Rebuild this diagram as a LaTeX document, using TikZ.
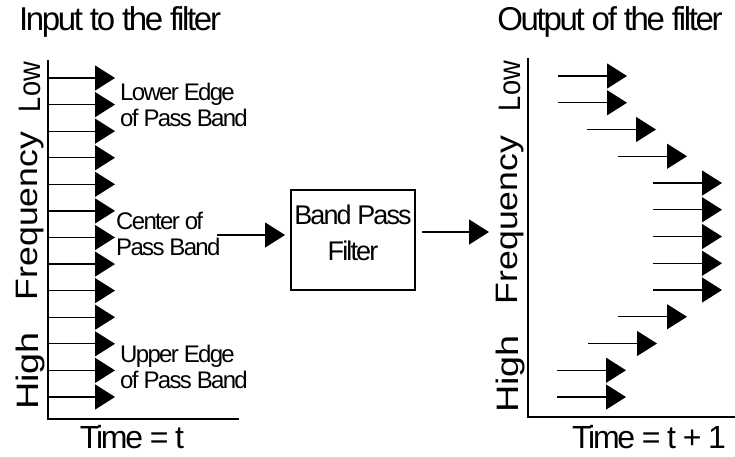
\documentclass[tikz,border=0pt]{standalone}
\usepackage{fontspec}
\setmainfont{Liberation Sans}[LetterSpace=-7]
\newfontfamily\sidefont{Liberation Sans}
\usetikzlibrary{arrows.meta}
\begin{document}
\begin{tikzpicture}[x=1pt,y=-1pt,
  arr/.style={line width=1.3pt,-{Triangle[length=20pt,width=25pt]}},
  axis/.style={line width=1.6pt},
  lbl/.style={font=\fontsize{24}{26.5}\selectfont, align=left, anchor=west, inner sep=0pt},
  ttl/.style={font=\fontsize{33}{36}\selectfont, inner sep=0pt},
  side/.style={font=\sidefont\fontsize{31}{34}\selectfont, rotate=90, inner sep=0pt},
  boxtext/.style={font=\fontsize{27}{36}\selectfont, align=center, inner sep=0pt},
  bpfbox/.style={draw, line width=1.5pt, minimum width=124pt, minimum height=100pt, inner sep=0pt}
  ]
\useasboundingbox (0,0) rectangle (735,456);
% titles
\node[ttl, anchor=base] (tin) at (120,30) {Input to the filter};
\node[ttl, anchor=base] (tout) at (610,30) {Output of the filter};
\node[ttl, anchor=base, font=\fontsize{32}{34}\selectfont] (tt) at (132,448) {Time = t};
\node[ttl, anchor=base, font=\fontsize{32}{34}\selectfont] (tt1) at (649,448) {Time = t + 1};
% side labels
\node[side] (lLow) at (30,87) {\scalebox{0.88}[1]{Low}};
\node[side] (lFreq) at (30,216) {\scalebox{1.15}[1]{Frequency}};
\node[side] (lHigh) at (30,371) {\scalebox{1.22}[1]{High}};
\node[side] (rLow) at (510,86) {\scalebox{0.88}[1]{Low}};
\node[side] (rFreq) at (510,220) {\scalebox{1.15}[1]{Frequency}};
\node[side] (rHigh) at (510,374) {\scalebox{1.22}[1]{High}};
% axes
\coordinate (lt) at (48,60); \coordinate (lo) at (48,419); \coordinate (lr) at (239,419);
\draw[axis] (lt) -- (lo) -- (lr);
\coordinate (rt) at (528,58); \coordinate (ro) at (528,417); \coordinate (rr) at (735,417);
\draw[axis] (rt) -- (ro) -- (rr);
% left arrows
\foreach \i in {0,...,12}{
  \coordinate (ls\i) at (48,78+26.58*\i);
  \coordinate (le\i) at (115,78+26.58*\i);
  \draw[arr] (ls\i) -- (le\i);
}
% right arrows
\foreach \s [count=\i from 0] in {558,558,587,618,653,653,653,653,653,618,588,557,557}{
  \coordinate (rs\i) at (\s,76+26.75*\i);
  \coordinate (re\i) at (\s+69,76+26.75*\i);
  \draw[arr] (rs\i) -- (re\i);
}
% labels
\node[lbl] (lowedge) at (120,105) {Lower Edge\\of Pass Band};
\node[lbl] (center) at (116,234) {Center of\\Pass Band};
\node[lbl] (upedge) at (120,367) {Upper Edge\\of Pass Band};
% filter box
\node[bpfbox] (bpf) at (353,240) {};
\node[boxtext] (bpft) at (353,233) {Band Pass\\Filter};
% middle arrows
\coordinate (m1) at (217,235); \coordinate (m1e) at (285,235);
\draw[arr] (m1) -- (m1e);
\coordinate (m2) at (422,232); \coordinate (m2e) at (489,232);
\draw[arr] (m2) -- (m2e);
\end{tikzpicture}
\end{document}
